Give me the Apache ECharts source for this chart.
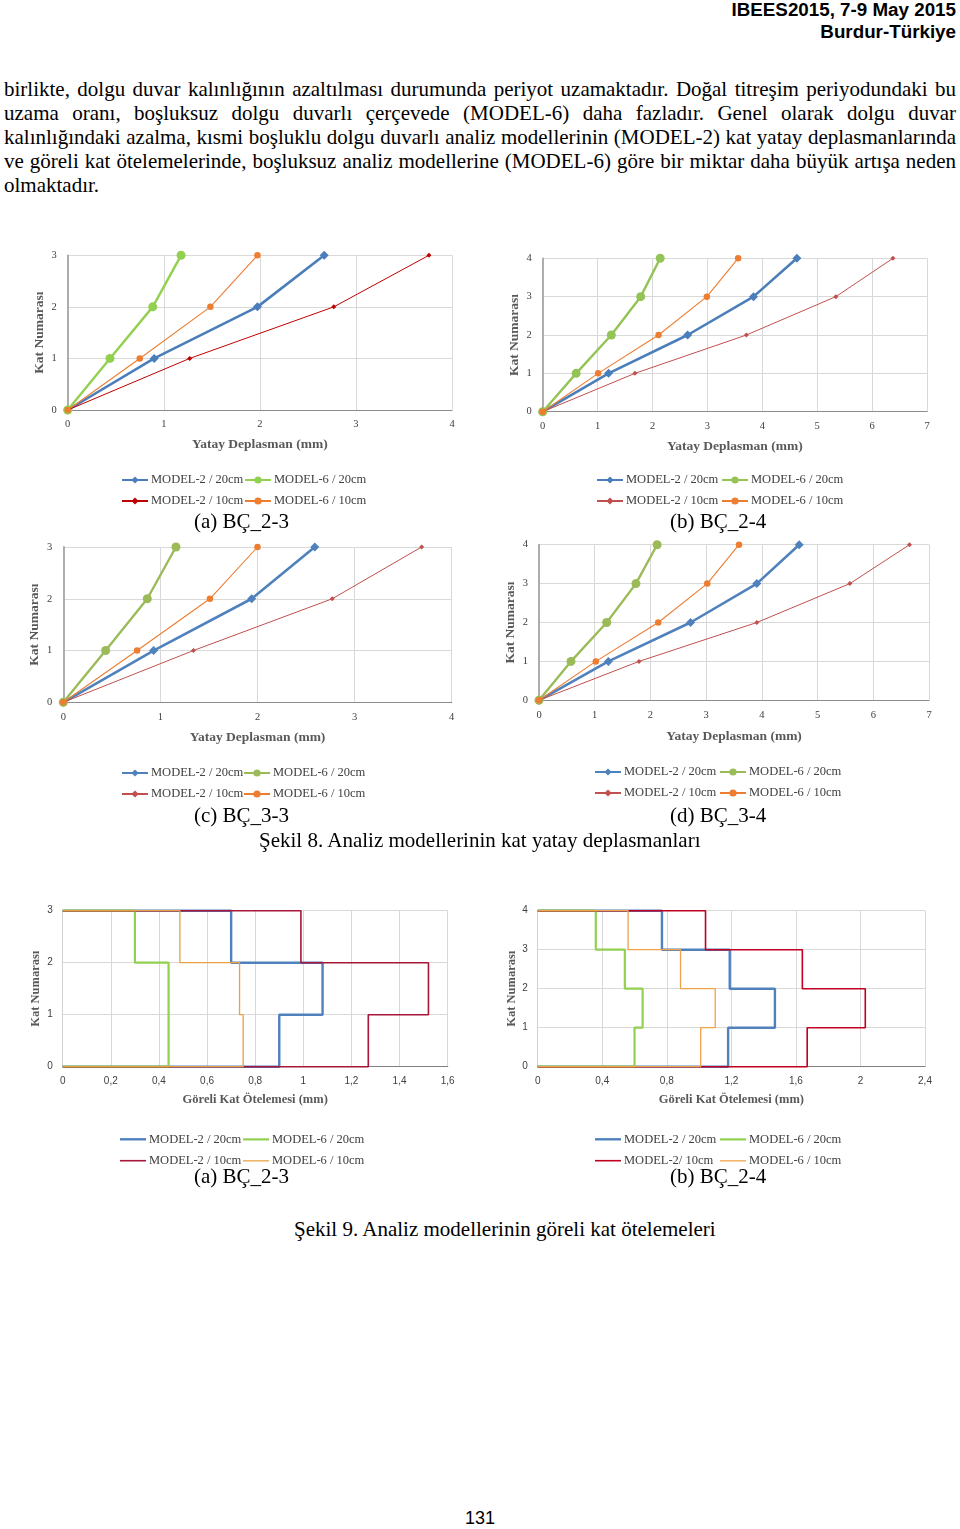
<!DOCTYPE html>
<html><head><meta charset="utf-8">
<script src="https://cdn.jsdelivr.net/npm/echarts@6/dist/echarts.min.js"></script>
<style>
html,body{margin:0;padding:0;background:#fff;}
#page{position:relative;width:960px;height:1529px;overflow:hidden;background:#fff;}
.hdr{position:absolute;right:4px;font:bold 18.8px "Liberation Sans",Arial,sans-serif;color:#000;line-height:22px;text-align:right;white-space:nowrap;}
.par{position:absolute;left:4px;width:952px;top:77px;font:21px "Liberation Serif","Times New Roman",serif;line-height:24px;color:#000;}
.par .j{text-align:justify;text-align-last:justify;}
.cap{position:absolute;font:21px "Liberation Serif","Times New Roman",serif;line-height:24px;color:#000;white-space:nowrap;}
.pn{position:absolute;left:0;width:960px;text-align:center;font:18px "Liberation Sans",Arial,sans-serif;line-height:22px;color:#000;}
.ch{position:absolute;}
</style>
</head><body>
<div id="page">
  <div class="hdr" style="top:-1px">IBEES2015, 7-9 May 2015</div>
  <div class="hdr" style="top:21px">Burdur-Türkiye</div>
  <div class="par">
    <div class="j">birlikte, dolgu duvar kalınlığının azaltılması durumunda periyot uzamaktadır. Doğal titreşim periyodundaki bu</div>
    <div class="j">uzama oranı, boşluksuz dolgu duvarlı çerçevede (MODEL-6) daha fazladır. Genel olarak dolgu duvar</div>
    <div class="j">kalınlığındaki azalma, kısmi boşluklu dolgu duvarlı analiz modellerinin (MODEL-2) kat yatay deplasmanlarında</div>
    <div class="j">ve göreli kat ötelemelerinde, boşluksuz analiz modellerine (MODEL-6) göre bir miktar daha büyük artışa neden</div>
    <div>olmaktadır.</div>
  </div>
  <div id="ca" class="ch"></div>
  <div id="cb" class="ch"></div>
  <div id="cc" class="ch"></div>
  <div id="cd" class="ch"></div>
  <div id="ce" class="ch"></div>
  <div id="cf" class="ch"></div>
  <div class="cap" style="left:194px;top:509px">(a) BÇ_2-3</div>
  <div class="cap" style="left:670px;top:509px">(b) BÇ_2-4</div>
  <div class="cap" style="left:194px;top:803px">(c) BÇ_3-3</div>
  <div class="cap" style="left:670px;top:803px">(d) BÇ_3-4</div>
  <div class="cap" style="left:259px;top:828px">Şekil 8. Analiz modellerinin kat yatay deplasmanları</div>
  <div class="cap" style="left:194px;top:1164px">(a) BÇ_2-3</div>
  <div class="cap" style="left:670px;top:1164px">(b) BÇ_2-4</div>
  <div class="cap" style="left:294px;top:1217px">Şekil 9. Analiz modellerinin göreli kat ötelemeleri</div>
  <div class="pn" style="top:1507px">131</div>
</div>
<script>
// ---------------- DATA ----------------
const FLOORS3 = [0, 1, 2, 3];
const FLOORS4 = [0, 1, 2, 3, 4];
const NAMES = ['MODEL-2 / 20cm', 'MODEL-6 / 20cm', 'MODEL-2 / 10cm', 'MODEL-6 / 10cm'];
const NAMES_9B = ['MODEL-2 / 20cm', 'MODEL-6 / 20cm', 'MODEL-2/ 10cm', 'MODEL-6 / 10cm'];

// Şekil 8 (a) BÇ_2-3 : lateral displacement (mm) per floor
const a_m2_20 = [0, 0.90, 1.975, 2.67];
const a_m6_20 = [0, 0.44, 0.885, 1.18];
const a_m2_10 = [0, 1.27, 2.77, 3.76];
const a_m6_10 = [0, 0.75, 1.485, 1.975];
// Şekil 8 (b) BÇ_2-4
const b_m2_20 = [0, 1.20, 2.64, 3.84, 4.63];
const b_m6_20 = [0, 0.61, 1.25, 1.785, 2.14];
const b_m2_10 = [0, 1.68, 3.71, 5.34, 6.38];
const b_m6_10 = [0, 1.01, 2.11, 2.99, 3.56];
// Şekil 8 (c) BÇ_3-3
const c_m2_20 = [0, 0.93, 1.94, 2.59];
const c_m6_20 = [0, 0.436, 0.865, 1.16];
const c_m2_10 = [0, 1.34, 2.77, 3.69];
const c_m6_10 = [0, 0.76, 1.51, 2.00];
// Şekil 8 (d) BÇ_3-4
const d_m2_20 = [0, 1.245, 2.72, 3.91, 4.67];
const d_m6_20 = [0, 0.574, 1.215, 1.74, 2.12];
const d_m2_10 = [0, 1.795, 3.91, 5.58, 6.65];
const d_m6_10 = [0, 1.02, 2.14, 3.02, 3.59];
// Şekil 9 (a) BÇ_2-3 : storey drift (mm), storey 1..3
const e_m2_20 = [0.90, 1.08, 0.70];
const e_m6_20 = [0.44, 0.44, 0.30];
const e_m2_10 = [1.27, 1.52, 0.99];
const e_m6_10 = [0.75, 0.735, 0.487];
// Şekil 9 (b) BÇ_2-4 : storey drift (mm), storey 1..4
const f_m2_20 = [1.18, 1.47, 1.19, 0.77];
const f_m6_20 = [0.60, 0.65, 0.54, 0.36];
const f_m2_10 = [1.67, 2.03, 1.64, 1.04];
const f_m6_10 = [1.01, 1.10, 0.885, 0.56];

// ---------------- STYLE / LAYOUT ----------------
const SERIF = '"Liberation Serif","Times New Roman",Times,serif';
const SANS = '"Liberation Sans",Arial,sans-serif';

const cfg8 = [
  {id:'ca', box:[0,235,480,280], grid:[67.7,255.3,452,410], xMax:4, yMax:3, floors:FLOORS3,
   vals:[a_m2_20,a_m6_20,a_m2_10,a_m6_10], colors:['#4a7ebb','#92d050','#c00000','#ed7d31'],
   cols:[121,244], rows:[478,499], xGap:27.5, yGap:21},
  {id:'cb', box:[480,235,480,280], grid:[542.7,258.3,927,411.7], xMax:7, yMax:4, floors:FLOORS4,
   vals:[b_m2_20,b_m6_20,b_m2_10,b_m6_10], colors:['#4a7ebb','#94c356','#c0504d','#ed7d31'],
   cols:[596,721], rows:[478,499], xGap:28, yGap:21},
  {id:'cc', box:[0,530,480,275], grid:[63.3,547,451.7,702.3], xMax:4, yMax:3, floors:FLOORS3,
   vals:[c_m2_20,c_m6_20,c_m2_10,c_m6_10], colors:['#4f81bd','#9bbb59','#c0504d','#ed7d31'],
   cols:[121,243], rows:[771,792], xGap:28.5, yGap:21.5},
  {id:'cd', box:[480,530,480,275], grid:[539,544.7,929,700.3], xMax:7, yMax:4, floors:FLOORS4,
   vals:[d_m2_20,d_m6_20,d_m2_10,d_m6_10], colors:['#4f81bd','#9bbb59','#c0504d','#ed7d31'],
   cols:[594,719], rows:[770,791], xGap:29, yGap:21.5}
];
const W8 = [2.6, 2.4, 1, 1.1];
const SYM8 = ['diamond', 'circle', 'diamond', 'circle'];
const SIZE8 = [9, 9, 5, 6.5];

const cfg9 = [
  {id:'ce', box:[0,895,480,275], grid:[62.7,910.7,447.7,1066.7], xMax:1.6, xInt:0.2, yMax:3,
   vals:[e_m2_20,e_m6_20,e_m2_10,e_m6_10], colors:['#4f81bd','#92d050','#a8173a','#eba043'], names:NAMES,
   cols:[120,243], rows:[1134,1155], xGap:26.5, yGap:20},
  {id:'cf', box:[480,895,480,275], grid:[537.7,910.7,925,1066.7], xMax:2.4, xInt:0.4, yMax:4,
   vals:[f_m2_20,f_m6_20,f_m2_10,f_m6_10], colors:['#4f81bd','#92d050','#c00022','#f0a24a'], names:NAMES_9B,
   cols:[595,720], rows:[1134,1155], xGap:26.5, yGap:19}
];
const W9 = [2.4, 2.2, 1.6, 1.3];

function steps(d) {
  const pts = [[0, 0]];
  d.forEach((v, i) => { pts.push([v, i]); pts.push([v, i + 1]); });
  pts.push([0, d.length]);
  return pts;
}

function place(c) {
  const el = document.getElementById(c.id);
  el.style.left = c.box[0] + 'px'; el.style.top = c.box[1] + 'px';
  el.style.width = c.box[2] + 'px'; el.style.height = c.box[3] + 'px';
  return echarts.init(el, null, {renderer:'canvas', width:c.box[2], height:c.box[3]});
}

function legends(c, names, iconOpts) {
  const ox = c.box[0], oy = c.box[1];
  const out = [];
  names.forEach((n, i) => {
    const col = c.cols[i % 2], row = c.rows[Math.floor(i / 2)];
    const ih = iconOpts ? iconOpts[i].h : 9;
    const l = {
      data:[n], left: col - ox, top: row - ih / 2 - oy, orient:'horizontal',
      padding:0, itemGap:0, itemWidth:26, itemHeight:ih, selectedMode:false,
      textStyle:{fontFamily:SERIF, fontSize:12.5, color:'#404040', padding:[0,0,0,-2]}
    };
    if (iconOpts) l.icon = 'rect';
    out.push(l);
  });
  return out;
}

function axisCommon(max, interval, font, fsz, margin) {
  return {
    type:'value', min:0, max:max, interval:interval,
    axisTick:{show:false},
    axisLabel:{margin:margin, fontFamily:font, fontSize:fsz, color:'#404040'},
    splitLine:{show:true, lineStyle:{color:'#d9d9d9', width:1}},
    nameMoveOverlap:false
  };
}

cfg8.forEach(c => {
  const ch = place(c);
  const ox = c.box[0], oy = c.box[1];
  const [x0, y0, x1, y1] = c.grid;
  const xa = axisCommon(c.xMax, 1, SERIF, 10.5, 9);
  Object.assign(xa, {
    axisLine:{show:true, onZero:false, lineStyle:{color:'#8c8c8c', width:1.2}},
    name:'Yatay Deplasman (mm)', nameLocation:'middle', nameGap:c.xGap,
    nameTextStyle:{fontFamily:SERIF, fontWeight:'bold', fontSize:13.5, color:'#595959'}
  });
  const ya = axisCommon(c.yMax, 1, SERIF, 10.5, 11);
  Object.assign(ya, {
    axisLine:{show:true, onZero:false, lineStyle:{color:'#a6a6a6', width:1.8}},
    name:'Kat Numarası', nameLocation:'middle', nameGap:c.yGap,
    nameTextStyle:{fontFamily:SERIF, fontWeight:'bold', fontSize:13.5, color:'#595959'}
  });
  ch.setOption({
    animation:false, backgroundColor:'transparent',
    grid:{left:x0 - ox, top:y0 - oy, width:x1 - x0, height:y1 - y0, containLabel:false, outerBoundsMode:'none'},
    xAxis:xa, yAxis:ya,
    legend:legends(c, NAMES, null),
    series:NAMES.map((n, i) => ({
      type:'line', name:n, color:c.colors[i],
      data:c.floors.map((f, k) => [c.vals[i][k], f]),
      symbol:SYM8[i], symbolSize:SIZE8[i], showSymbol:true, clip:false,
      lineStyle:{width:W8[i], color:c.colors[i]}, itemStyle:{color:c.colors[i]},
      emphasis:{disabled:true}, z:2 + i
    }))
  });
});

cfg9.forEach(c => {
  const ch = place(c);
  const ox = c.box[0], oy = c.box[1];
  const [x0, y0, x1, y1] = c.grid;
  const xa = axisCommon(c.xMax, c.xInt, SANS, 10, 10);
  xa.axisLabel.formatter = v => String(+v.toFixed(2)).replace('.', ',');
  Object.assign(xa, {
    axisLine:{show:true, onZero:false, lineStyle:{color:'#7f7f7f', width:1.2}},
    name:'Göreli Kat Ötelemesi (mm)', nameLocation:'middle', nameGap:c.xGap,
    nameTextStyle:{fontFamily:SERIF, fontWeight:'bold', fontSize:12.5, color:'#595959'}
  });
  const ya = axisCommon(c.yMax, 1, SANS, 10, 10);
  Object.assign(ya, {
    axisLine:{show:true, onZero:false, lineStyle:{color:'#d0d0d0', width:1}},
    name:'Kat Numarası', nameLocation:'middle', nameGap:c.yGap,
    nameTextStyle:{fontFamily:SERIF, fontWeight:'bold', fontSize:12.5, color:'#595959'}
  });
  ch.setOption({
    animation:false, backgroundColor:'transparent',
    grid:{left:x0 - ox, top:y0 - oy, width:x1 - x0, height:y1 - y0, containLabel:false, outerBoundsMode:'none'},
    xAxis:xa, yAxis:ya,
    legend:legends(c, c.names, W9.map(w => ({h:w}))),
    series:c.names.map((n, i) => ({
      type:'line', name:n, color:c.colors[i],
      data:steps(c.vals[i]),
      symbol:'none', showSymbol:false, clip:false,
      lineStyle:{width:W9[i], color:c.colors[i]}, itemStyle:{color:c.colors[i]},
      emphasis:{disabled:true}, z:2 + i
    }))
  });
});
</script>
</body></html>
